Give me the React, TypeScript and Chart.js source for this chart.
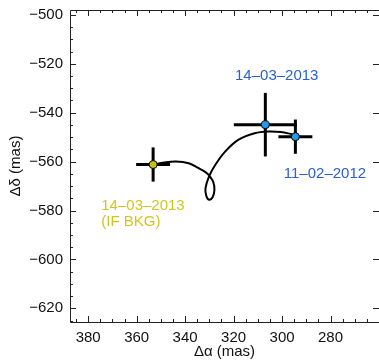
import React, { useEffect, useRef } from "react";
import { Chart, registerables } from "chart.js";

Chart.register(...registerables);

// Background-object track (Δα, Δδ in mas)
const trackRA = [295.9, 300.4, 305.8, 311.3, 318.1, 323.5, 327.6, 330.2, 331.6, 331.2, 330.0, 328.6, 327.9, 328.4, 329.8, 331.6, 334.4, 338.5, 343.9, 348.7, 352.8];
const trackDec = [-548.8, -547.9, -547.7, -548.4, -551.1, -555.9, -561.4, -566.2, -571.0, -574.2, -575.6, -574.5, -571.5, -568.3, -566.0, -564.3, -562.7, -560.7, -560.0, -560.4, -561.1];

// Measured positions
const obsRA = [353.2, 306.9, 294.5];
const obsDec = [-561.2, -544.9, -549.8];
const obsErrRA = [7, 13, 7];
const obsErrDec = [7, 13, 7];
const obsColors = ["#c9c00c", "#1e9ceb", "#1e9ceb"];

// Annotations
const labelTexts = ["14\u201303\u20132013", "(IF BKG)", "14\u201303\u20132013", "11\u201302\u20132012"];
const labelRA = [374.6, 374.6, 302.2, 282.3];
const labelDec = [-578.1, -584.6, -525.0, -565.0];
const labelColors = ["#d2c61e", "#d2c61e", "#2a5fcf", "#2a5fcf"];
const labelAlign = ["left", "left", "center", "center"];

// Axes
const xTickValues = [380, 360, 340, 320, 300, 280];
const yTickValues = [-500, -520, -540, -560, -580, -600, -620];
const xTitle = "\u0394\u03b1 (mas)";
const yTitle = "\u0394\u03b4 (mas)";
const xMin = 260;
const xMax = 387.5;
const yMin = -625.6;
const yMax = -498;

const FONT = "'Liberation Sans', Arial, Helvetica, sans-serif";

const axesPlugin = {
  id: "axesPlugin",
  afterDraw(chart: any) {
    const { ctx, chartArea } = chart;
    const xs = chart.scales.x;
    const ys = chart.scales.y;
    const { left, right, top, bottom } = chartArea;
    ctx.save();
    // frame
    ctx.strokeStyle = "#222";
    ctx.lineWidth = 1;
    ctx.beginPath();
    ctx.rect(Math.round(left) + 0.5, Math.round(top) + 0.5, Math.round(right - left), Math.round(bottom - top));
    ctx.stroke();
    // inward ticks
    ctx.beginPath();
    for (let v = 260; v <= 390; v += 5) {
      const px = xs.getPixelForValue(v);
      if (px < left || px > right) continue;
      const len = v % 20 === 0 ? 6 : 3;
      const x = Math.round(px) + 0.5;
      ctx.moveTo(x, bottom);
      ctx.lineTo(x, bottom - len);
      ctx.moveTo(x, top);
      ctx.lineTo(x, top + len);
    }
    for (let v = -630; v <= -495; v += 5) {
      const py = ys.getPixelForValue(v);
      if (py < top || py > bottom) continue;
      const len = v % 20 === 0 ? 6 : 3;
      const y = Math.round(py) + 0.5;
      ctx.moveTo(left, y);
      ctx.lineTo(left + len, y);
      if (v % 20 === 0) {
        ctx.moveTo(right, y);
        ctx.lineTo(right - len, y);
      }
    }
    ctx.stroke();
    // tick labels
    ctx.fillStyle = "#111";
    ctx.font = `15px ${FONT}`;
    ctx.textBaseline = "middle";
    ctx.textAlign = "center";
    xTickValues.forEach((v) => {
      ctx.fillText(String(v), xs.getPixelForValue(v), bottom + 16);
    });
    ctx.textAlign = "right";
    yTickValues.forEach((v) => {
      ctx.fillText(String(v).replace("-", "\u2212"), left - 7, ys.getPixelForValue(v));
    });
    // titles
    ctx.textAlign = "center";
    ctx.fillText(xTitle, (left + right) / 2, bottom + 30);
    ctx.translate(16, (top + bottom) / 2);
    ctx.rotate(-Math.PI / 2);
    ctx.fillText(yTitle, 0, 0);
    ctx.restore();
  },
};

const labelsPlugin = {
  id: "labelsPlugin",
  afterDatasetsDraw(chart: any) {
    const { ctx } = chart;
    const xs = chart.scales.x;
    const ys = chart.scales.y;
    ctx.save();
    ctx.font = `15px ${FONT}`;
    ctx.textBaseline = "middle";
    labelTexts.forEach((t, i) => {
      ctx.fillStyle = labelColors[i];
      ctx.textAlign = labelAlign[i] as CanvasTextAlign;
      ctx.fillText(t, xs.getPixelForValue(labelRA[i]), ys.getPixelForValue(labelDec[i]));
    });
    ctx.restore();
  },
};

export default function App() {
  const ref = useRef<HTMLCanvasElement>(null);

  useEffect(() => {
    if (!ref.current) return;
    const datasets: any[] = [];
    datasets.push({
      type: "scatter",
      data: obsRA.map((x, i) => ({ x, y: obsDec[i] })),
      pointRadius: 4,
      pointBorderWidth: 1,
      pointBorderColor: "#000",
      pointBackgroundColor: obsColors,
      showLine: false,
    });
    obsRA.forEach((x, i) => {
      const y = obsDec[i];
      datasets.push({
        type: "line",
        data: [
          { x: x - obsErrRA[i], y },
          { x: x + obsErrRA[i], y },
        ],
        borderColor: "#000",
        borderWidth: 3,
        pointRadius: 0,
        borderCapStyle: "butt",
      });
      datasets.push({
        type: "line",
        data: [
          { x, y: y - obsErrDec[i] },
          { x, y: y + obsErrDec[i] },
        ],
        borderColor: "#000",
        borderWidth: 3,
        pointRadius: 0,
        borderCapStyle: "butt",
      });
    });
    datasets.push({
      type: "line",
      data: trackRA.map((x, i) => ({ x, y: trackDec[i] })),
      borderColor: "#000",
      borderWidth: 2,
      pointRadius: 0,
      tension: 0.35,
      fill: false,
    });

    const chart = new Chart(ref.current, {
      type: "scatter",
      data: { datasets },
      plugins: [axesPlugin, labelsPlugin],
      options: {
        animation: false,
        responsive: true,
        maintainAspectRatio: false,
        layout: { padding: { top: 10, right: 2, left: 0, bottom: 0 } },
        plugins: { legend: { display: false }, tooltip: { enabled: false } },
        events: [],
        scales: {
          x: {
            type: "linear",
            reverse: true,
            min: xMin,
            max: xMax,
            afterBuildTicks: (s: any) => {
              s.ticks = xTickValues.map((v) => ({ value: v }));
            },
            afterFit: (s: any) => {
              s.height = 41;
            },
            grid: { display: false, drawTicks: false },
            border: { display: false },
            ticks: { display: false },
            title: { display: false },
          },
          y: {
            type: "linear",
            min: yMin,
            max: yMax,
            afterBuildTicks: (s: any) => {
              s.ticks = yTickValues.map((v) => ({ value: v }));
            },
            afterFit: (s: any) => {
              s.width = 70;
            },
            grid: { display: false, drawTicks: false },
            border: { display: false },
            ticks: { display: false },
            title: { display: false },
          },
        },
      },
    });
    return () => chart.destroy();
  }, []);

  return (
    <div style={{ position: "fixed", left: 0, top: 0, width: 379, height: 363, overflow: "hidden", background: "#fff" }}>
      <div style={{ position: "relative", width: 384, height: 363 }}>
        <canvas ref={ref} />
      </div>
    </div>
  );
}
